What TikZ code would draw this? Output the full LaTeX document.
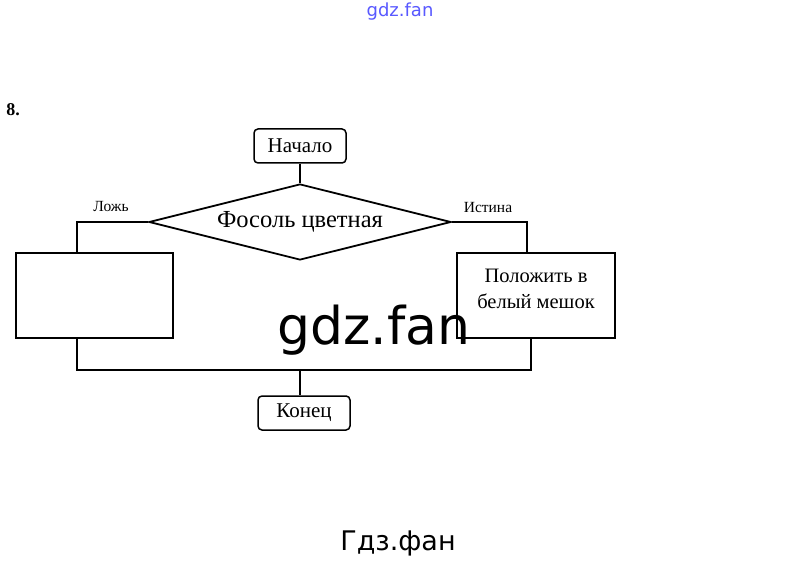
\documentclass[tikz,border=0pt]{standalone}
\usepackage{fontspec}
\setmainfont{Liberation Serif}
\newfontfamily\wmfont{DejaVu Sans}
\usetikzlibrary{shapes.geometric}
\tikzset{
  flow/.style={draw=black, line width=1.5pt},
  termbox/.style={draw=black, line width=1.5pt, rounded corners=4pt, minimum width=92pt, minimum height=34pt, inner sep=0pt, font=\fontsize{21}{24}\selectfont},
  actbox/.style={draw=black, line width=1.5pt, minimum height=85pt, inner sep=0pt, align=center, font=\fontsize{20.5}{25}\selectfont},
  decbox/.style={draw=black, line width=1.8pt, diamond, aspect=4, minimum width=302pt, minimum height=76pt, inner sep=0pt, font=\fontsize{24.5}{27}\selectfont},
  lbl/.style={font=\fontsize{15.5}{17}\selectfont, inner sep=0pt},
  wm/.style={font=\wmfont, inner sep=0pt}
}
\begin{document}
\begin{tikzpicture}[x=1pt,y=-1pt]
\useasboundingbox[fill=white] (0,0) rectangle (800,561);
% watermarks
\node[wm, text=blue!65, font=\wmfont\fontsize{18}{20}\selectfont] (wmtop) at (400,12) {gdz.fan};
\node[wm, font=\wmfont\fontsize{52}{58}\selectfont] (wmmid) at (374,330) {gdz.fan};
\node[wm, font=\wmfont\fontsize{27}{30}\selectfont] (wmbot) at (398,543) {Гдз.фан};
% task number
\node[font=\bfseries\fontsize{18}{20}\selectfont, inner sep=0pt] (num) at (13,110) {8.};
% nodes
\node[termbox] (start) at (300,146) {Начало};
\node[decbox] (dec) at (300,222) {\raisebox{3pt}{Фосоль цветная}};
\node[actbox, minimum width=157pt] (lbox) at (94.5,295.5) {};
\node[actbox, minimum width=158pt] (rbox) at (536,295.5) {\raisebox{14pt}{\shortstack{Положить в\\[8pt]белый мешок}}};
\node[termbox] (end) at (304,413) {Конец};
% helper coordinates
\coordinate (lx) at (77,0);
\coordinate (rx) at (527,0);
\coordinate (rx2) at (531,0);
\coordinate (j) at (300,370);
% labels
\node[lbl] (false) at (111,207) {Ложь};
\node[lbl] (true) at (488,208) {Истина};
% connectors
\draw[flow] (start) -- (dec.north);
\draw[flow] (dec.west) -| (lx |- lbox.north);
\draw[flow] (dec.east) -| (rx |- rbox.north);
\draw[flow] (lx |- lbox.south) -- (lx |- j) -- (rx2 |- j) -- (rx2 |- rbox.south);
\draw[flow] (j) -- (j |- end.north);
\end{tikzpicture}
\end{document}
